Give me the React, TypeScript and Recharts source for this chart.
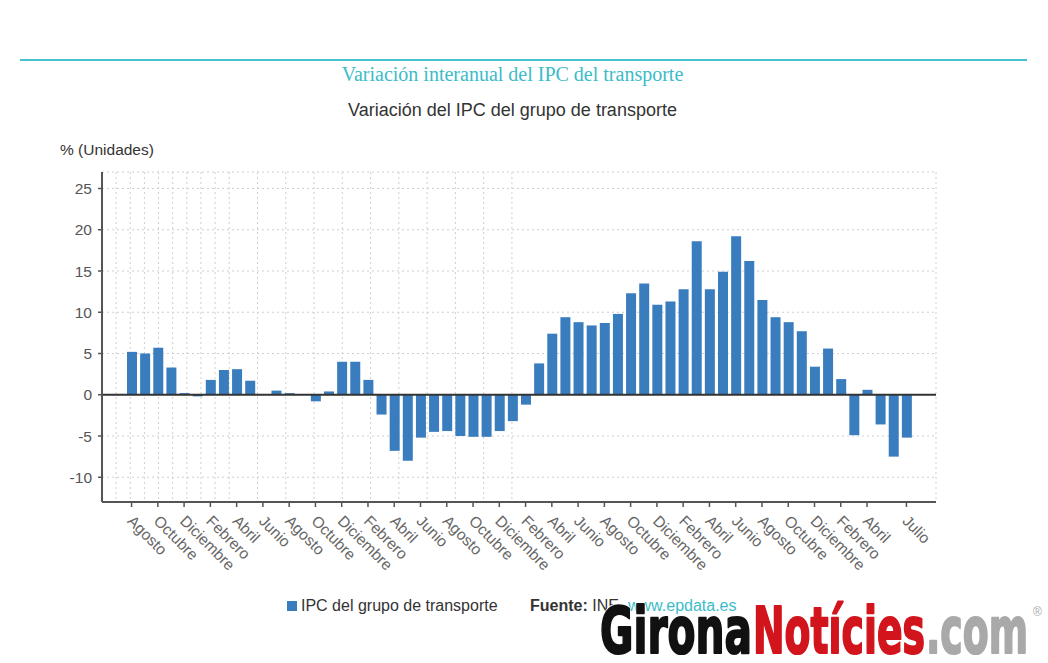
import { Bar, BarChart, CartesianGrid, ReferenceLine, XAxis, YAxis } from "recharts";

const MONTHS = [
  "Enero", "Febrero", "Marzo", "Abril", "Mayo", "Junio",
  "Julio", "Agosto", "Septiembre", "Octubre", "Noviembre", "Diciembre",
];

// agosto 2018 .. julio 2023
const periods = [
  "2018-08", "2018-09", "2018-10", "2018-11", "2018-12",
  "2019-01", "2019-02", "2019-03", "2019-04", "2019-05", "2019-06",
  "2019-07", "2019-08", "2019-09", "2019-10", "2019-11", "2019-12",
  "2020-01", "2020-02", "2020-03", "2020-04", "2020-05", "2020-06",
  "2020-07", "2020-08", "2020-09", "2020-10", "2020-11", "2020-12",
  "2021-01", "2021-02", "2021-03", "2021-04", "2021-05", "2021-06",
  "2021-07", "2021-08", "2021-09", "2021-10", "2021-11", "2021-12",
  "2022-01", "2022-02", "2022-03", "2022-04", "2022-05", "2022-06",
  "2022-07", "2022-08", "2022-09", "2022-10", "2022-11", "2022-12",
  "2023-01", "2023-02", "2023-03", "2023-04", "2023-05", "2023-06",
  "2023-07",
];

const ipcTransporte = [
  5.2, 5.0, 5.7, 3.3, 0.2,
  -0.2, 1.8, 3.0, 3.1, 1.7, 0.0,
  0.5, 0.2, 0.0, -0.8, 0.4, 4.0,
  4.0, 1.8, -2.4, -6.8, -8.0, -5.2,
  -4.5, -4.4, -5.0, -5.1, -5.1, -4.4,
  -3.2, -1.2, 3.8, 7.4, 9.4, 8.8,
  8.4, 8.7, 9.8, 12.3, 13.5, 10.9,
  11.3, 12.8, 18.6, 12.8, 14.9, 19.2,
  16.2, 11.5, 9.4, 8.8, 7.7, 3.4,
  5.6, 1.9, -4.9, 0.6, -3.6, -7.5,
  -5.2,
];

const xTicks = [
  "2018-08", "2018-10", "2018-12", "2019-02", "2019-04", "2019-06",
  "2019-08", "2019-10", "2019-12", "2020-02", "2020-04", "2020-06",
  "2020-08", "2020-10", "2020-12", "2021-02", "2021-04", "2021-06",
  "2021-08", "2021-10", "2021-12", "2022-02", "2022-04", "2022-06",
  "2022-08", "2022-10", "2022-12", "2023-02", "2023-04", "2023-07",
];

const yTicks = [-10, -5, 0, 5, 10, 15, 20, 25];

// the vertical dotted grid of the original is spaced on its own, not on the bars
const gridTicks = Array.from({ length: 30 }, (_, i) => i);

const data = periods.map((p, i) => ({ period: p, value: ipcTransporte[i] }));

const BLUE = "#3a7dbe";
const TEAL = "#3bbcc8";
const SANS = "'Liberation Sans', Arial, sans-serif";

const monthName = (p: string) => MONTHS[Number(p.slice(5, 7)) - 1];

function MonthTick({ x, y, payload }: any) {
  const tx = x - 5;
  const ty = y + 12;
  return (
    <g>
      <line x1={x} x2={x} y1={y - 8} y2={y - 3} stroke="#555" strokeWidth={1.5} />
      <text
        x={tx}
        y={ty}
        transform={`rotate(45 ${tx} ${ty})`}
        textAnchor="start"
        fontSize={15.5}
        fontFamily={SANS}
        fill="#666"
      >
        {monthName(payload.value)}
      </text>
    </g>
  );
}

function Logo() {
  const parts = [
    { t: "Girona", x: 600, w: 152, c: "#111" },
    { t: "Notícies", x: 753, w: 172, c: "#d2141c" },
    { t: ".com", x: 926, w: 102, c: "#a9a9a9" },
  ];
  const common = {
    y: 653,
    fontFamily: "'DejaVu Sans', sans-serif",
    fontWeight: "bold",
    fontSize: 64,
    lengthAdjust: "spacingAndGlyphs",
    strokeLinejoin: "round" as const,
  };
  return (
    <svg width={1048} height={663} style={{ position: "absolute", left: 0, top: 0, pointerEvents: "none" }}>
      {parts.map((p) => (
        <text key={"h" + p.t} {...common} x={p.x} textLength={p.w} fill="#fff" stroke="#fff" strokeWidth={4}>{p.t}</text>
      ))}
      {parts.map((p) => (
        <text key={p.t} {...common} x={p.x} textLength={p.w} fill={p.c} stroke={p.c} strokeWidth={2.2}>{p.t}</text>
      ))}
      <text x={1033} y={616} fontSize={12} fill="#aaa" fontFamily={SANS}>®</text>
    </svg>
  );
}

export default function App() {
  return (
    <div style={{ position: "relative", width: 1048, height: 663, background: "#fff", overflow: "hidden", fontFamily: SANS }}>
      <style>{"body{margin:0}"}</style>
      <div style={{ position: "absolute", left: 20, top: 59, width: 1007, height: 2, background: "#45c2ce" }} />
      <div style={{ position: "absolute", left: 0, width: 1025, top: 63, textAlign: "center", fontFamily: "'Liberation Serif', serif", fontSize: 20, color: TEAL }}>
        Variación interanual del IPC del transporte
      </div>
      <div style={{ position: "absolute", left: 0, width: 1025, top: 100, textAlign: "center", fontSize: 18, color: "#333" }}>
        Variación del IPC del grupo de transporte
      </div>
      <div style={{ position: "absolute", left: 60, top: 141, fontSize: 15.5, color: "#333" }}>% (Unidades)</div>

      <div style={{ position: "absolute", left: 0, top: 0 }}>
        <BarChart
          width={1048}
          height={663}
          data={data}
          margin={{ top: 172, right: 112, bottom: 101, left: 0 }}
          barSize={10}
        >
          <CartesianGrid vertical={false} stroke="#cfcfcf" strokeDasharray="2 3" />
          <CartesianGrid xAxisId="grid" horizontal={false} stroke="#cfcfcf" strokeDasharray="2 3" />
          <XAxis
            dataKey="period"
            ticks={xTicks}
            interval={0}
            padding={{ left: 23, right: 23 }}
            height={60}
            tick={<MonthTick />}
            tickLine={false}
            axisLine={{ stroke: "#555", strokeWidth: 2 }}
          />
          <XAxis
            xAxisId="grid"
            type="number"
            domain={[-1.024, 29.03]}
            ticks={gridTicks}
            allowDataOverflow
            hide
          />
          <YAxis
            width={102}
            domain={[-13, 27]}
            ticks={yTicks}
            allowDataOverflow
            interval={0}
            tick={{ fontSize: 15.5, fill: "#555", fontFamily: SANS }}
            tickLine={{ stroke: "#555", strokeWidth: 1.5 }}
            tickSize={4}
            tickMargin={6}
            axisLine={{ stroke: "#555", strokeWidth: 2 }}
          />
          <ReferenceLine y={0} stroke="#333" strokeWidth={2} />
          <Bar dataKey="value" fill={BLUE} isAnimationActive={false} />
        </BarChart>
      </div>

      <div style={{ position: "absolute", left: 287, top: 601, width: 10, height: 10, background: BLUE }} />
      <div style={{ position: "absolute", left: 301, top: 597, fontSize: 16, color: "#333", whiteSpace: "nowrap" }}>
        IPC del grupo de transporte
      </div>
      <div style={{ position: "absolute", left: 530, top: 597, fontSize: 16, color: "#333", whiteSpace: "nowrap" }}>
        <b>Fuente:</b> INE
      </div>
      <div style={{ position: "absolute", left: 628, top: 597, fontSize: 16, color: TEAL, whiteSpace: "nowrap" }}>
        www.epdata.es
      </div>

      <Logo />
    </div>
  );
}
